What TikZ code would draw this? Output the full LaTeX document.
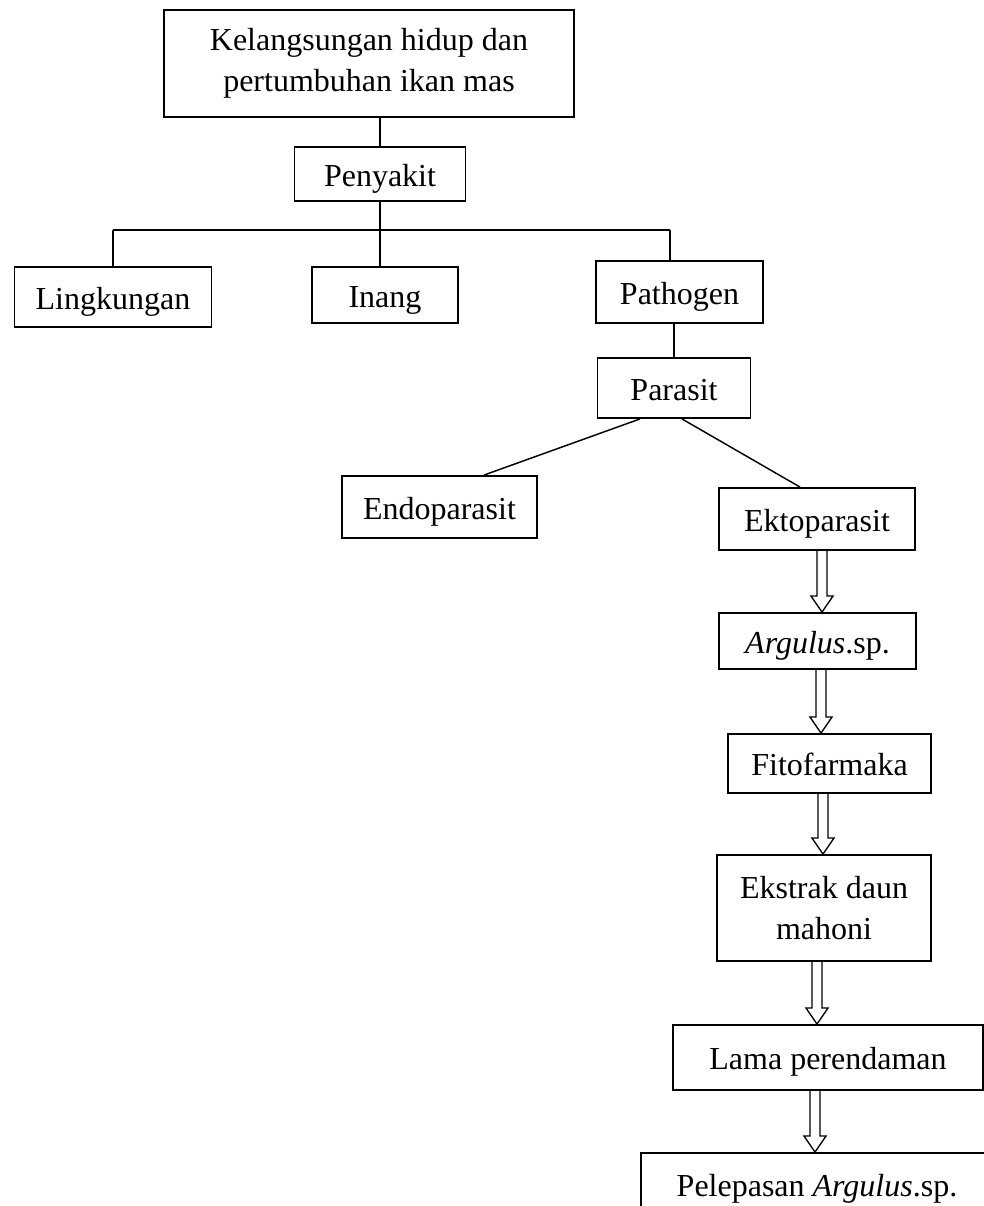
\documentclass[tikz,border=0pt]{standalone}
\usepackage{fontspec}
\setmainfont{Liberation Serif}
\usetikzlibrary{calc}

%% hollow arrow pointing down, from the bottom of #2 to the top of #3, at x = #1
\newcommand\hollowarr[3]{%
  \draw[line width=1pt] let \p1=(#2.south -| #1,0), \p2=(#3.north -| #1,0) in
    (\x1-3.75pt,\y1) -- (\x1-3.75pt,\y2+12pt) -- (\x1-8.25pt,\y2+12pt) -- (\x2,\y2)
    -- (\x1+8.25pt,\y2+12pt) -- (\x1+3.75pt,\y2+12pt) -- (\x1+3.75pt,\y1);}

\begin{document}
\begin{tikzpicture}[x=0.75pt, y=-0.75pt,
  box/.style 2 args={draw, line width=1.4pt, align=center, inner sep=0pt,
    minimum width=#1*0.75pt, minimum height=#2*0.75pt},
  oneline/.style={text height=0.9em, text depth=0.12em},
  link/.style={line width=1.1pt}]

  \fontsize{24}{31}\selectfont

  \path[use as bounding box, clip] (0,0) rectangle (984,1206);

  \node[box={410}{107}] (hidup) at (369, 63.5) {Kelangsungan hidup dan\\pertumbuhan ikan mas};
  \node[box={171}{54}, oneline] (penyakit) at (380, 174) {Penyakit};

  \node[box={197}{60}, oneline] (lingkungan) at (113, 297) {Lingkungan};
  \node[box={146}{56}, oneline] (inang) at (385, 295) {Inang};
  \node[box={167}{62}, oneline] (pathogen) at (679.5, 292) {Pathogen};

  \node[box={153}{60}, oneline] (parasit) at (674, 388) {Parasit};
  \node[box={195}{62}, oneline] (endo) at (439.5, 507) {Endoparasit};
  \node[box={196}{62}, oneline] (ekto) at (817, 519) {Ektoparasit};

  \node[box={197}{56}, oneline] (argulus) at (817.5, 641) {\textit{Argulus}.sp.};
  \node[box={203}{59}, oneline] (fito) at (829.5, 763.5) {Fitofarmaka};
  \node[box={214}{106}] (ekstrak) at (824, 908) {Ekstrak daun\\mahoni};
  \node[box={310}{65}, oneline] (lama) at (828, 1057.5) {Lama perendaman};
  \node[box={352}{62}, oneline] (lepas) at (817, 1184) {Pelepasan \textit{Argulus}.sp.};

  %% tree part
  \coordinate (barL) at (113, 230);
  \coordinate (barR) at (670, 230);
  \draw[link] (hidup.south -| penyakit) -- (penyakit.north);
  \draw[link] (penyakit.south) -- (penyakit.south |- barL);
  \draw[link] (barL) -- (barR);
  \draw[link] (barL) -- (lingkungan.north);
  \draw[link] (penyakit.south |- barL) -- (inang.north -| penyakit);
  \draw[link] (barR) -- (barR |- pathogen.north);
  \draw[link] (pathogen.south -| parasit) -- (parasit.north);
  \draw[link] ($(parasit.south)+(-34,0)$) -- ($(endo.north)+(44.5,0)$);
  \draw[link] ($(parasit.south)+(8,0)$) -- ($(ekto.north)+(-17,0)$);

  %% chain of hollow arrows
  \hollowarr{822}{ekto}{argulus}
  \hollowarr{821}{argulus}{fito}
  \hollowarr{823}{fito}{ekstrak}
  \hollowarr{817}{ekstrak}{lama}
  \hollowarr{815}{lama}{lepas}

\end{tikzpicture}
\end{document}
